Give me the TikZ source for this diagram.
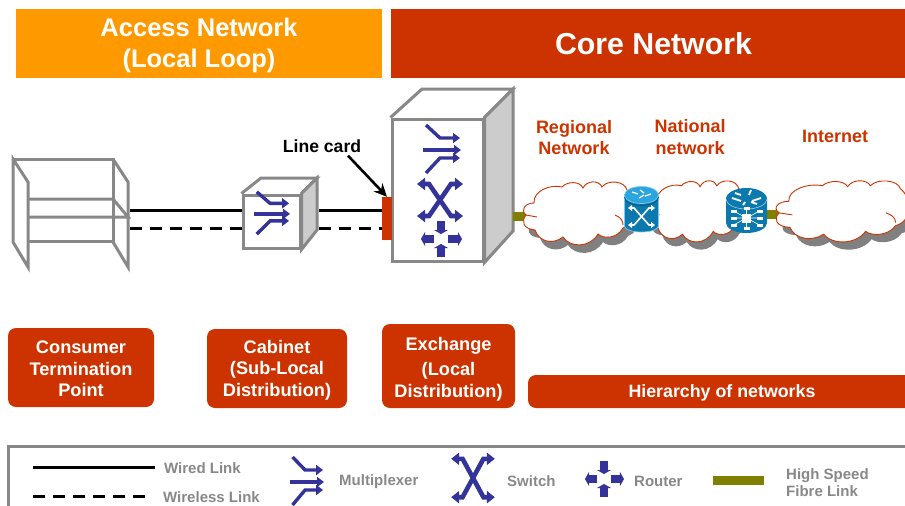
\documentclass[tikz,border=0pt]{standalone}
\usepackage{fontspec}
\setmainfont{Liberation Sans}
\usetikzlibrary{arrows.meta}
\definecolor{coreRed}{HTML}{CC3300}
\definecolor{accessOrange}{HTML}{FF9900}
\definecolor{iconBlue}{HTML}{333399}
\definecolor{fibreOlive}{HTML}{808000}
\definecolor{frameGray}{HTML}{888888}
\definecolor{sideGray}{HTML}{CCCCCC}
\definecolor{bodyBlue}{HTML}{0B78AE}
\definecolor{topBlue}{HTML}{2AA5E0}
\tikzstyle{banner}=[inner sep=0pt,text=white,align=center,font=\bfseries]
\tikzstyle{redbox}=[fill=coreRed,rounded corners=8pt,inner sep=0pt]
\tikzstyle{boxtext}=[inner sep=0pt,text=white,align=center,font=\fontsize{18.2}{21.5}\selectfont\bfseries]
\tikzstyle{redtext}=[text=coreRed,align=center,font=\fontsize{18}{21.5}\selectfont\bfseries]
\tikzstyle{keytext}=[text=frameGray,anchor=west,inner sep=0pt,align=left,font=\fontsize{15}{17}\selectfont\bfseries]
\tikzstyle{boxline}=[draw=frameGray,line width=3pt,line join=miter]
\tikzstyle{wiredlink}=[black,line width=3pt]
\tikzstyle{wirelesslink}=[black,line width=3pt,dash pattern=on 12pt off 8pt]
\tikzstyle{fibre}=[fibreOlive,line width=9pt]
\tikzstyle{symline}=[iconBlue,line width=3.4pt,-{Triangle[length=7pt,width=10pt]}]
\tikzstyle{symtwo}=[iconBlue,line width=4.6pt,{Triangle[length=8pt,width=12pt]}-{Triangle[length=8pt,width=12pt]}]
\tikzstyle{symfat}=[iconBlue,line width=8pt,-{Triangle[length=4pt,width=14pt]}]
\tikzstyle{whitearrow}=[white,line width=1.6pt,{Triangle[length=4pt,width=6pt]}-{Triangle[length=4pt,width=6pt]}]
\def\muxsym#1#2#3#4{\begin{scope}[shift={(#1,#2)},xscale=#3,yscale=#4]
    \draw[symline] (-15,-24) -- (-1,-11) -- (19,-11);
    \draw[symline] (-18,1) -- (20,1);
    \draw[symline] (-15,24) -- (-1,9) -- (19,9);
  \end{scope}}
\def\switchsym#1#2#3#4{\begin{scope}[shift={(#1,#2)},xscale=#3,yscale=#4]
    \draw[symtwo] (-23,-16) -- (-11,-16) -- (11,16) -- (23,16);
    \draw[symtwo] (-23,16) -- (-11,16) -- (11,-16) -- (23,-16);
  \end{scope}}
\def\routersym#1#2#3#4{\begin{scope}[shift={(#1,#2)},xscale=#3,yscale=#4]
    \draw[symfat] (0,-18) -- (0,-5);
    \draw[symfat] (0,18) -- (0,5);
    \draw[symfat] (-7,0) -- (-20,0);
    \draw[symfat] (7,0) -- (21,0);
  \end{scope}}
\def\cloudoutline{(-49,3) .. controls (-55,-2) and (-50,-9) .. (-41,-9)
    .. controls (-42,-21) and (-25,-28) .. (-13,-25)
    .. controls (-8,-31) and (5,-31) .. (8,-24)
    .. controls (12,-32) and (24,-32) .. (27,-25)
    .. controls (33,-33) and (50,-31) .. (52,-22)
    .. controls (62,-12) and (62,12) .. (48,16)
    .. controls (42,27) and (28,27) .. (23,22)
    .. controls (15,36) and (-5,36) .. (-12,25)
    .. controls (-22,33) and (-36,30) .. (-40,18)
    .. controls (-52,17) and (-54,9) .. (-49,3) -- cycle}
\def\cloudsym#1#2#3#4{\begin{scope}[shift={(#1,#2)},xscale=#3,yscale=#4]
    \fill[black!50,shift={(5,8)}] \cloudoutline;
    \draw[coreRed,line width=0.9pt,fill=white] \cloudoutline;
    \draw[coreRed,line width=0.9pt] (-49,3) -- (-38,5);
    \draw[coreRed,line width=0.9pt] (40,3) .. controls (45,5) and (48,8) .. (48,13);
  \end{scope}}
\begin{document}
\begin{tikzpicture}[x=1pt,y=-1pt]
  \useasboundingbox (0,0) rectangle (905,506);
  % banners
  \node[banner,fill=accessOrange,minimum width=366pt,minimum height=69pt] (access) at (199,43.5) {};
  \node[banner,font=\fontsize{25.5}{31}\selectfont\bfseries] (accesstext) at (199,45) {Access Network\\(Local Loop)};
  \node[banner,fill=coreRed,minimum width=525pt,minimum height=69pt,font=\fontsize{30.3}{36}\selectfont\bfseries] (core) at (653.5,43.5) {Core Network};
  % consumer shelf
  \draw[boxline] (13,159) -- (113,159) -- (113,242);
  \draw[boxline] (13,159) -- (28,182) -- (28,267) -- (13,242) -- cycle;
  \draw[boxline] (113,159) -- (128,182) -- (128,267) -- (113,242);
  \draw[boxline] (28,199) -- (113,199) -- (128,217) -- (28,217);
  \draw[boxline] (28,241) -- (113,241);
  \coordinate (shelfwire) at (130,210);
  \coordinate (shelfair) at (130,228);
  \coordinate (cabwire) at (319,210);
  \coordinate (cabair) at (319,228);
  % cabinet
  \node[boxline,fill=white,minimum width=57pt,minimum height=53pt,inner sep=0pt] (cabfront) at (271.5,221.5) {};
  \draw[boxline] (cabfront.north west) -- (261,178) -- (317,178) -- (cabfront.north east);
  \draw[boxline,fill=sideGray] (cabfront.north east) -- (317,178) -- (317,230) -- (cabfront.south east) -- cycle;
  \muxsym{271}{213}{0.95}{0.88}
  % exchange
  \node[boxline,fill=white,minimum width=91pt,minimum height=142pt,inner sep=0pt] (exchfront) at (437.5,190) {};
  \draw[boxline] (exchfront.north west) -- (422,89) -- (513,89) -- (exchfront.north east);
  \draw[boxline,fill=sideGray] (exchfront.north east) -- (513,89) -- (513,231) -- (exchfront.south east) -- cycle;
  \muxsym{441}{149}{1}{1}
  \switchsym{440}{200}{1}{1}
  \routersym{441}{239}{1}{1}
  \node[fill=coreRed,minimum width=10pt,minimum height=43pt,inner sep=0pt] (linecard) at (387,218.5) {};
  % links
  \draw[wiredlink] (shelfwire) -- (shelfwire -| cabfront.west);
  \draw[wirelesslink] (shelfair) -- (shelfair -| cabfront.west);
  \draw[wiredlink] (cabwire) -- (cabwire -| linecard.west);
  \draw[wirelesslink] (cabair) -- (cabair -| linecard.west);
  \node[inner sep=0pt,font=\fontsize{17.6}{20}\selectfont\bfseries] (cardtext) at (322,146) {Line card};
  \draw[black,line width=2.6pt,-{Stealth[length=13pt,width=12pt]}] ([xshift=26pt,yshift=-3pt]cardtext.south) -- (linecard.north);
  % networks
  \node[redtext] (regional) at (574,137.5) {Regional\\Network};
  \node[redtext] (national) at (690,137) {National\\network};
  \node[redtext] (internet) at (835,136) {Internet};
  \coordinate (exchfibre) at (513,216.5);
  \coordinate (regfibre) at (535,216.5);
  \coordinate (routerfibre) at (767,214.5);
  \coordinate (inetfibre) at (790,214.5);
  \draw[fibre] (exchfibre) -- (regfibre);
  \draw[fibre] (routerfibre) -- (inetfibre);
  \cloudsym{575}{212}{1}{1}
  \cloudsym{693}{210}{0.88}{0.97}
  \cloudsym{838}{210}{1.2}{0.97}
  % switch icon
  \fill[bodyBlue,draw=topBlue!60,line width=0.7pt] (624.5,195) -- (624.5,226) arc[start angle=180,end angle=360,x radius=17,y radius=-6] -- (658.5,195) -- cycle;
  \fill[topBlue,draw=topBlue!60!white,line width=0.7pt] (641.5,195) ellipse [x radius=17,y radius=8.5];
  \draw[bodyBlue!70!black,line width=0.8pt] (624.5,197) arc[start angle=180,end angle=360,x radius=17,y radius=-8.5];
  \draw[whitearrow] (628,208) -- (634,208) -- (649,225) -- (655,225);
  \draw[whitearrow] (628,225) -- (634,225) -- (649,208) -- (655,208);
  \draw[white,line width=1.2pt] (632,192) -- (638,194) (645,196) -- (651,194) (640,190) -- (644,193) (639,198) -- (644,195);
  % router icon
  \fill[bodyBlue] (726,199) -- (726,223) arc[start angle=180,end angle=360,x radius=20.5,y radius=-10] -- (767,199) arc[start angle=0,end angle=180,x radius=20.5,y radius=-11] -- cycle;
  \draw[white!70!bodyBlue,line width=0.5pt] (726,199) arc[start angle=180,end angle=360,x radius=20.5,y radius=-10];
  \draw[white,line width=1.8pt] (732,198) -- (741,201) (761,198) -- (752,201) (751,190) -- (749,195) (743,205) -- (745,202) (735,193) -- (741,195) (757,204) -- (751,202);
  \draw[white,line width=0.6pt] (746.5,218) -- +(-13,-7) (746.5,218) -- +(13,-7) (746.5,218) -- +(-13,0) (746.5,218) -- +(13,0) (746.5,218) -- +(-13,7) (746.5,218) -- +(13,7) (746.5,218) -- +(0,-10) (746.5,218) -- +(0,10);
  \fill[white] (742,213.5) rectangle (751,222.5);
  \foreach \a/\b in {-13/-7,13/-7,-13/0,13/0,-13/7,13/7,0/-10,0/10}
    \fill[white] (746.5+\a-3,218+\b-1.5) rectangle (746.5+\a+3,218+\b+1.5);
  % location boxes
  \node[redbox,minimum width=146pt,minimum height=79pt] (consumer) at (81,367.5) {};
  \node[boxtext] (consumertext) at (81,369) {Consumer\\Termination\\Point};
  \node[redbox,minimum width=140pt,minimum height=79pt] (cabinet) at (277,368.5) {};
  \node[boxtext] (cabinettext) at (277,370) {Cabinet\\(Sub-Local\\Distribution)};
  \node[redbox,minimum width=133pt,minimum height=84pt] (exchange) at (448.5,366) {};
  \node[boxtext] (exchangetext) at (448.5,369) {Exchange\\[4pt](Local\\Distribution)};
  \node[redbox,minimum width=388pt,minimum height=33pt] (hierarchy) at (722,391.5) {};
  \node[boxtext,font=\fontsize{17.8}{21.5}\selectfont\bfseries] (hierarchytext) at (722,393) {Hierarchy of networks};
  % legend
  \draw[boxline] (8,506) -- (8,446) -- (905,446);
  \coordinate (keywired) at (33,467);
  \coordinate (keywiredend) at (155,467);
  \coordinate (keyair) at (33,496);
  \coordinate (keyairend) at (147,496);
  \node[keytext] (wiredtext) at (164,468) {Wired Link};
  \node[keytext] (airtext) at (163,497) {Wireless Link};
  \draw[wiredlink] (keywired) -- (keywiredend);
  \draw[wirelesslink] (keyair) -- (keyairend);
  \muxsym{306}{481}{0.9}{1}
  \node[keytext] (muxtext) at (339,482) {Multiplexer};
  \switchsym{473}{478}{0.95}{1.2}
  \node[keytext] (switchtext) at (507,481) {Switch};
  \routersym{604}{479}{0.95}{1}
  \node[keytext] (routertext) at (634,481) {Router};
  \fill[fibreOlive] (713,476) rectangle (764,485);
  \node[keytext] (fibretext) at (786,483) {High Speed\\Fibre Link};
\end{tikzpicture}
\end{document}
